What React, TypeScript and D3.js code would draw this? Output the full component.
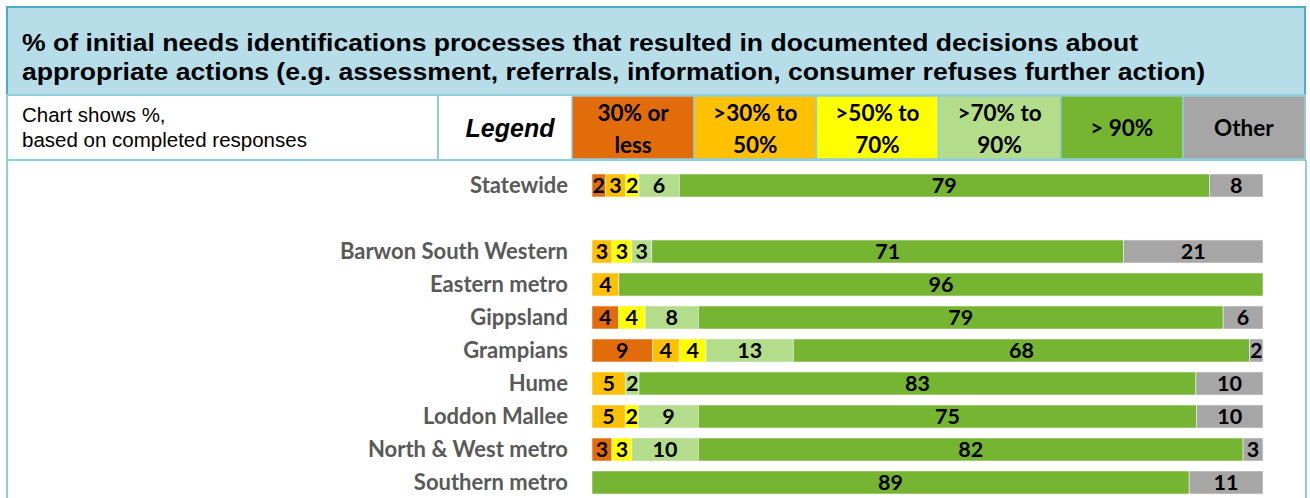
import React from 'react';
import * as d3 from 'd3';

const regions = ['Statewide', '', 'Barwon South Western', 'Eastern metro', 'Gippsland', 'Grampians', 'Hume', 'Loddon Mallee', 'North & West metro', 'Southern metro'];
const seriesKeys = ['low', 'mid1', 'mid2', 'mid3', 'high', 'other'];
const legendLabels = [['30% or', 'less'], ['>30% to', '50%'], ['>50% to', '70%'], ['>70% to', '90%'], ['> 90%'], ['Other']];
const colours = ['#E36C0A', '#FFC000', '#FFFF00', '#B3DD8A', '#76B531', '#A6A6A6'];

const low = [2, 0, 0, 0, 4, 9, 0, 0, 3, 0];
const mid1 = [3, 0, 3, 4, 0, 4, 5, 5, 0, 0];
const mid2 = [2, 0, 3, 0, 4, 4, 0, 2, 3, 0];
const mid3 = [6, 0, 3, 0, 8, 13, 2, 9, 10, 0];
const high = [79, 0, 71, 96, 79, 68, 83, 75, 82, 89];
const other = [8, 0, 21, 0, 6, 2, 10, 10, 3, 11];

const titleLines = [
  '% of initial needs identifications processes that resulted in documented decisions about',
  'appropriate actions (e.g. assessment, referrals, information, consumer refuses further action)',
];
const titleWidths = [1116, 1183];

const W = 1310;
const H = 498;
const calibri = 'Lato, "Open Sans", sans-serif';
const arial = '"Liberation Sans", Arial, sans-serif';

export default function App() {
  const rows = regions.map((r, i) => ({
    region: r,
    low: low[i], mid1: mid1[i], mid2: mid2[i], mid3: mid3[i], high: high[i], other: other[i],
  }));

  const stack = d3.stack<any>().keys(seriesKeys).offset(d3.stackOffsetExpand);
  // blank spacer row is all zeros, leave it out of the stack
  const layers = stack(rows.filter(d => d.region !== ''));

  const x = d3.scaleLinear().domain([0, 1]).range([592, 1263]);
  const y = d3.scaleBand().domain(regions).range([164, 504]).padding(10 / 33);

  const legendX = d3.scaleBand().domain(seriesKeys).range([572, 1305]);

  return (
    <svg width={W} height={H} style={{ position: 'absolute', left: 0, top: 0, background: '#fff' }}>
      {/* title band */}
      <rect x={7} y={7} width={1298} height={88} fill="#B7DEE8" stroke="#4BACC6" strokeWidth={2} />
      {titleLines.map((t, i) => (
        <text key={i} x={22} y={51 + i * 29} textLength={titleWidths[i]} lengthAdjust="spacingAndGlyphs"
          fontFamily={arial} fontWeight="bold" fontSize={23} fill="#000">{t}</text>
      ))}

      {/* info / legend row */}
      <rect x={7} y={95} width={1298} height={65} fill="#fff" stroke="#92CDDC" strokeWidth={2} />
      <text x={22} y={122} fontFamily={arial} fontSize={20.5} fill="#000">Chart shows %,</text>
      <text x={22} y={147} fontFamily={arial} fontSize={20.5} fill="#000">based on completed responses</text>
      <line x1={438} x2={438} y1={95} y2={160} stroke="#92CDDC" strokeWidth={2} />
      <text x={510} y={137} textAnchor="middle" fontFamily={arial} fontWeight="bold" fontStyle="italic" fontSize={25} fill="#000">Legend</text>

      {seriesKeys.map((k, i) => {
        const x0 = legendX(k)!;
        const bw = legendX.bandwidth();
        const lines = legendLabels[i];
        return (
          <g key={k}>
            <rect x={x0} y={96} width={bw} height={63} fill={colours[i]} stroke="#92CDDC" strokeWidth={1.5} />
            {lines.map((l, j) => (
              <text key={j} x={x0 + bw / 2} y={lines.length === 1 ? 136 : 121 + j * 32}
                textAnchor="middle" fontFamily={calibri} fontWeight="bold" fontSize={22.5} fill="#000">{l}</text>
            ))}
          </g>
        );
      })}

      {/* chart area frame */}
      <line x1={7} x2={7} y1={160} y2={H} stroke="#92CDDC" strokeWidth={2} />
      <line x1={1306} x2={1306} y1={160} y2={H} stroke="#92CDDC" strokeWidth={2} />

      {/* category labels */}
      {regions.filter(r => r !== '').map(r => (
        <text key={r} x={568} y={y(r)! + y.bandwidth() / 2} dy="0.36em" textAnchor="end"
          fontFamily={calibri} fontWeight="bold" fontSize={22} fill="#595959">{r}</text>
      ))}

      {/* bars */}
      {layers.map((layer, li) => (
        <g key={layer.key} fill={colours[li]}>
          {layer.map(d => {
            const v = d.data[layer.key];
            if (!v) return null;
            const x0 = x(d[0]);
            const x1 = x(d[1]);
            const yy = y(d.data.region)!;
            return (
              <g key={d.data.region}>
                <rect x={x0} y={yy} width={x1 - x0} height={y.bandwidth()} stroke="#f2f2f2" strokeWidth={0.6} />
                <text x={(x0 + x1) / 2} y={yy + y.bandwidth() / 2} dy="0.37em" textAnchor="middle"
                  fontFamily={calibri} fontWeight="bold" fontSize={21.5} fill="#000">{v}</text>
              </g>
            );
          })}
        </g>
      ))}
    </svg>
  );
}
